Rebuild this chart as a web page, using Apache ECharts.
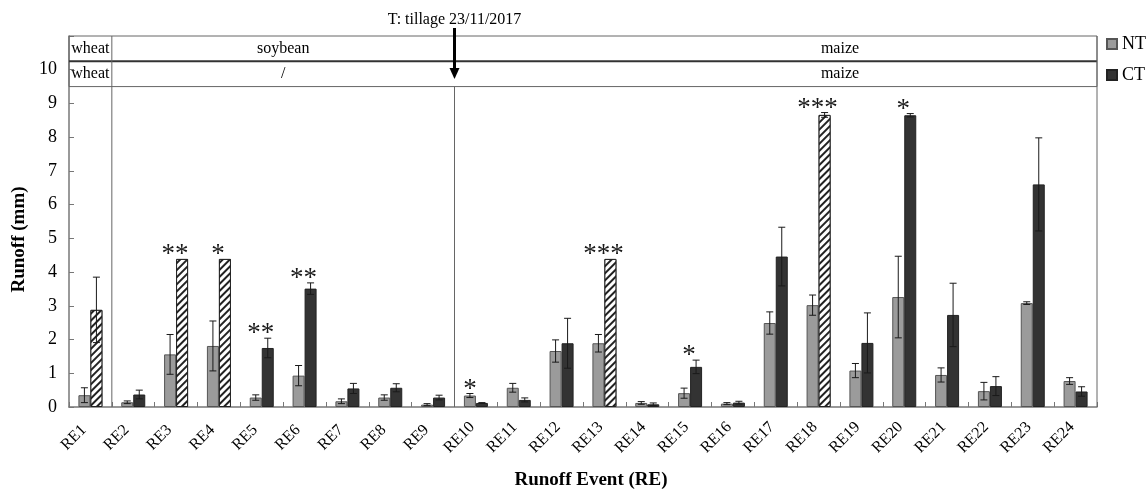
<!DOCTYPE html>
<html>
<head>
<meta charset="utf-8">
<script src="https://cdn.jsdelivr.net/npm/echarts@6/dist/echarts.min.js"></script>
<style>
html,body{margin:0;padding:0;background:#fff;}
#main{width:1146px;height:495px;}
</style>
</head>
<body>
<div id="main"></div>
<script>
// ---- data ----
const categories = ['RE1','RE2','RE3','RE4','RE5','RE6','RE7','RE8','RE9','RE10','RE11','RE12','RE13','RE14','RE15','RE16','RE17','RE18','RE19','RE20','RE21','RE22','RE23','RE24'];
const ntMean = [0.35,0.14,1.56,1.81,0.28,0.93,0.17,0.28,0.07,0.34,0.57,1.66,1.89,0.12,0.41,0.10,2.49,3.02,1.08,3.26,0.95,0.47,3.08,0.77];
const ntErr  = [0.22,0.04,0.59,0.74,0.08,0.30,0.07,0.08,0.03,0.06,0.13,0.33,0.26,0.04,0.15,0.03,0.33,0.30,0.21,1.21,0.21,0.26,0.04,0.10];
const ctMean = [2.88,0.37,4.39,4.39,1.75,3.51,0.55,0.57,0.28,0.12,0.21,1.89,4.39,0.08,1.19,0.13,4.46,8.66,1.90,8.65,2.73,0.62,6.60,0.46];
const ctErr  = [0.97,0.13,0,0,0.29,0.17,0.15,0.12,0.07,0.01,0.06,0.74,0,0.04,0.20,0.04,0.87,0.07,0.89,0.05,0.94,0.28,1.38,0.14];
const ctHatched = [1,0,1,1,0,0,0,0,0,0,0,0,1,0,0,0,0,1,0,0,0,0,0,0];
const stars   = ['','','**','*','**','**','','','','*','','','***','','*','','','***','','*','','','',''];
const starOn  = ['','','CT','CT','CT','CT','','','','NT','','','CT','','CT','','','CT','','CT','','','',''];
const yTickMax = 10;
const cropRows = {top:['wheat','soybean','maize'], bottom:['wheat','/','maize']};
const tillageText = 'T: tillage 23/11/2017';

// ---- style ----
const FONT = "'Liberation Serif','Times New Roman',serif";
const NT_COLOR = '#9b9b9b', NT_BORDER = '#555';
const CT_COLOR = '#333333', CT_BORDER = '#222';
const BAR_W = 12;
const hatchDecal = {symbol:'rect', symbolSize:1, dashArrayX:[1,0], dashArrayY:[1.3,2.4], rotation:-Math.PI/4, color:'#222', backgroundColor:'#fff'};

const chart = echarts.init(document.getElementById('main'), null, {renderer:'canvas'});

function errSeries(name, means, errs, offset) {
  return {
    type:'custom', name:name, silent:true, z:5,
    encode:{x:0, y:1},
    data: means.map((m,i)=>[i,m,errs[i]]),
    renderItem: function(params, api){
      const i = api.value(0), m = api.value(1), e = api.value(2);
      if (!e) return null;
      const t = api.coord([i, m+e]), b = api.coord([i, Math.max(0, m-e)]);
      const x = t[0] + offset, cw = 3.5;
      const st = {stroke:'#1a1a1a', lineWidth:1};
      return {type:'group', children:[
        {type:'line', shape:{x1:x,y1:t[1],x2:x,y2:b[1]}, style:st},
        {type:'line', shape:{x1:x-cw,y1:t[1],x2:x+cw,y2:t[1]}, style:st},
        {type:'line', shape:{x1:x-cw,y1:b[1],x2:x+cw,y2:b[1]}, style:st}
      ]};
    }
  };
}

const option = {
  animation:false,
  backgroundColor:'#fff',
  textStyle:{fontFamily:FONT},
  grid:{left:69, right:49, top:36, bottom:82, containLabel:false},
  legend:{
    data:['NT','CT'], orient:'vertical', left:1106, top:35, padding:0,
    itemWidth:10, itemHeight:10, itemGap:13, icon:'rect',
    textStyle:{fontFamily:FONT, fontSize:18, color:'#000', lineHeight:18}
  },
  xAxis:{
    type:'category', data:categories, boundaryGap:true,
    name:'Runoff Event (RE)', nameLocation:'middle', nameGap:64,
    nameTextStyle:{fontFamily:FONT, fontSize:19, fontWeight:'bold', color:'#000', padding:[0,0,0,16]},
    axisLine:{lineStyle:{color:'#777', width:1.5}},
    axisTick:{show:true, inside:true, length:5, interval:0, lineStyle:{color:'#777'}},
    axisLabel:{interval:0, rotate:45, align:'center', verticalAlign:'middle', margin:14,
      padding:[0,47,0,0], fontFamily:FONT, fontSize:16, color:'#000'}
  },
  yAxis:{
    type:'value', min:0, max:11, interval:1,
    name:'Runoff (mm)', nameLocation:'middle', nameGap:36,
    nameTextStyle:{fontFamily:FONT, fontSize:19, fontWeight:'bold', color:'#000', padding:[0,36,0,0]},
    axisLine:{show:true, lineStyle:{color:'#777', width:1.5}},
    axisTick:{show:true, inside:true, length:5, lineStyle:{color:'#777'}},
    splitLine:{show:false},
    axisLabel:{margin:12, fontFamily:FONT, fontSize:18, color:'#000',
      formatter:function(v){ return v > yTickMax ? '' : String(v); }}
  },
  series:[
    {type:'bar', name:'NT', data:ntMean, barWidth:BAR_W, barGap:'0%',
     itemStyle:{color:NT_COLOR, borderColor:NT_BORDER, borderWidth:1}},
    {type:'bar', name:'CT', barWidth:BAR_W, barGap:'0%',
     data: ctMean.map((v,i)=> ctHatched[i] ? {value:v, itemStyle:{color:'#fff', borderColor:'#222', borderWidth:1, decal:hatchDecal}} : v),
     itemStyle:{color:CT_COLOR, borderColor:CT_BORDER, borderWidth:1}},
    errSeries('NTerr', ntMean, ntErr, -BAR_W/2),
    errSeries('CTerr', ctMean, ctErr, BAR_W/2),
    {
      type:'custom', name:'sig', silent:true, z:6, encode:{x:0,y:1},
      data: categories.map((c,i)=>[i, starOn[i]==='NT' ? ntMean[i]+ntErr[i] : ctMean[i]+ctErr[i]]),
      renderItem:function(params, api){
        const i = api.value(0);
        if (!stars[i]) return null;
        const p = api.coord([i, api.value(1)]);
        const x = p[0] + (starOn[i]==='NT' ? -BAR_W/2 : -1);
        return {type:'text', style:{text:stars[i], x:x, y:p[1]-4, align:'center', verticalAlign:'middle',
          font:'27px ' + FONT, fill:'#1a1a1a'}};
      }
    }
  ]
};
chart.setOption(option);

// ---- annotations: crop boxes, tillage arrow ----
function px(i, v){ return chart.convertToPixel({gridIndex:0}, [i, v]); }
function boundary(i){ return (px(i,0)[0] + px(i+1,0)[0]) / 2; }
const L = px(0,0)[0] - (px(1,0)[0]-px(0,0)[0])/2;
const R = px(23,0)[0] + (px(1,0)[0]-px(0,0)[0])/2;
const T = px(0,11)[1], B = px(0,0)[1];
const yMid = px(0,10.25)[1], yLow = px(0,9.5)[1];
const xWheat = boundary(0), xTill = boundary(8);
const xSoy = boundary(4), xMaize = boundary(17);
const lineSt = {stroke:'#666', lineWidth:1};
const txt = (t,x,y,size)=>({type:'text', style:{text:t, x:x, y:y, align:'center', verticalAlign:'middle', font:(size||16)+'px '+FONT, fill:'#000'}, z:10});
chart.setOption({graphic:[
  {type:'rect', shape:{x:L, y:T, width:R-L, height:yLow-T}, style:{fill:'none', stroke:'#666', lineWidth:1}, z:10},
  {type:'line', shape:{x1:L, y1:yMid, x2:R, y2:yMid}, style:{stroke:'#333', lineWidth:2}, z:10},
  {type:'line', shape:{x1:xWheat, y1:T, x2:xWheat, y2:B}, style:lineSt, z:10},
  {type:'line', shape:{x1:xTill, y1:yLow, x2:xTill, y2:B}, style:lineSt, z:10},
  {type:'line', shape:{x1:R, y1:T, x2:R, y2:B}, style:lineSt, z:10},
  {type:'line', shape:{x1:xTill, y1:28, x2:xTill, y2:70}, style:{stroke:'#000', lineWidth:3}, z:11},
  {type:'polygon', shape:{points:[[xTill-5,68],[xTill+5,68],[xTill,79]]}, style:{fill:'#000'}, z:11},
  txt(tillageText, xTill, 20, 16),
  txt(cropRows.top[0], (L+xWheat)/2, (T+yMid)/2),
  txt(cropRows.top[1], xSoy, (T+yMid)/2),
  txt(cropRows.top[2], xMaize, (T+yMid)/2),
  txt(cropRows.bottom[0], (L+xWheat)/2, (yMid+yLow)/2),
  txt(cropRows.bottom[1], xSoy, (yMid+yLow)/2),
  txt(cropRows.bottom[2], xMaize, (yMid+yLow)/2)
]});
</script>
</body>
</html>
